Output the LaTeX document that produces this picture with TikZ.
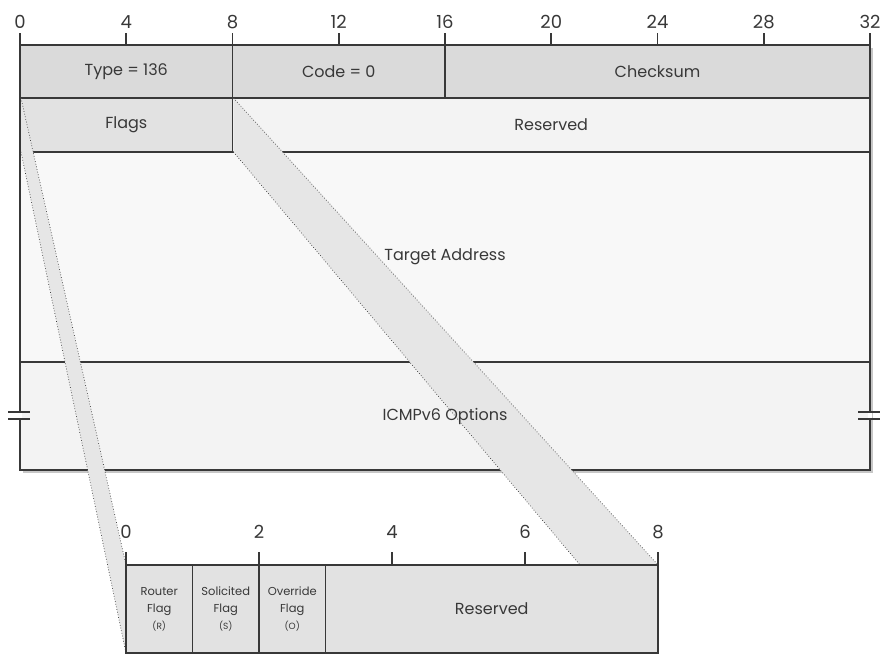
\documentclass[tikz,border=0pt]{standalone}
\usepackage{fontspec}
\setmainfont{Poppins}
\definecolor{nshdr}{HTML}{DADADA}
\definecolor{nsflag}{HTML}{E2E2E2}
\definecolor{nsrow}{HTML}{F3F3F3}
\definecolor{nsbody}{HTML}{F8F8F8}
\definecolor{nsband}{HTML}{E6E6E6}
\definecolor{nsline}{HTML}{383838}
\usepackage{tikz}
\usetikzlibrary{positioning,calc}

\begin{document}
\begin{tikzpicture}[x=1pt, y=-1pt,
  field/.style={draw=nsline, line width=1.3pt, anchor=north west, inner sep=0pt, outer sep=0pt},
  lbl/.style={font=\fontsize{16}{18}\selectfont, text=nsline},
  small/.style={font=\fontsize{11.5}{17}\selectfont, text=nsline, align=center},
  bitnum/.style={font=\fontsize{18}{20}\selectfont, anchor=base, text=nsline},
  tick/.style={draw=nsline, line width=1.6pt},
  edge/.style={draw=nsline, dotted, line width=0.7pt}]
  \useasboundingbox (0,0) rectangle (886,657);
  \pgfmathsetmacro{\bw}{26.5625} % one bit, header
  \pgfmathsetmacro{\fw}{66.5}    % one bit, flags byte
  % Shadow
  \fill[black!22] (23,48) rectangle (873,473);
  % Header rows
  \node[field, fill=nshdr, minimum width=8*\bw, minimum height=53] (type) at (20,45) {};
  \node[field, fill=nshdr, minimum width=8*\bw, minimum height=53, right=0pt of type] (code) {};
  \node[field, fill=nshdr, minimum width=16*\bw, minimum height=53, right=0pt of code] (csum) {};
  \node[field, fill=nsflag, minimum width=8*\bw, minimum height=54] (flags) at (type.south west) {};
  \node[field, fill=nsrow, minimum width=24*\bw, minimum height=54, right=0pt of flags] (res) {};
  \node[field, fill=nsbody, minimum width=32*\bw, minimum height=210] (target) at (flags.south west) {};
  \node[field, fill=nsrow, minimum width=32*\bw, minimum height=108] (opts) at (target.south west) {};
  \draw[nsline, line width=1.8pt] (type.north west) rectangle (opts.south east);
  % Break marks
  \foreach \xx in {20,870}{
    \fill[white] (\xx-2,413) rectangle (\xx+2,418);
    \draw[nsline, line width=1.5pt] (\xx-12,412) -- (\xx+10,412);
    \draw[nsline, line width=1.5pt] (\xx-12,419) -- (\xx+10,419);
  }
  % Flags byte corners
  \coordinate (flagtl) at (126,565);
  \coordinate (flagbl) at (126,653);
  \coordinate (flagtr) at (658,565);
  \coordinate (bandend) at (580,565);
  % Bands
  \fill[nsband] ([xshift=1pt]flags.north west) -- (flagtl) -- (flagbl) -- ([xshift=1pt]flags.south west) -- cycle;
  \draw[edge] ([xshift=1pt]flags.north west) -- (flagtl);
  \draw[edge] ([xshift=1pt]flags.south west) -- (flagbl);
  \fill[nsband] ([xshift=1pt]flags.north east) -- (flagtr) -- (bandend) -- ([xshift=1pt]flags.south east) -- cycle;
  \draw[edge] ([xshift=1pt]flags.north east) -- (flagtr);
  \draw[edge] ([xshift=1pt]flags.south east) -- (bandend);
  % Labels
  \node[lbl] (typetxt) at (type) {Type = 136};
  \node[lbl] (codetxt) at (code) {Code = 0};
  \node[lbl] (csumtxt) at (csum) {Checksum};
  \node[lbl] (flagstxt) at (flags) {Flags};
  \node[lbl] (restxt) at (res) {Reserved};
  \node[lbl] (targettxt) at (target) {Target Address};
  \node[lbl] (optstxt) at (opts) {ICMPv6 Options};
  % Bit ruler
  \foreach \b in {0,4,...,32}{
    \draw[tick] (20+\b*\bw,45) -- (20+\b*\bw,33);
    \node[bitnum] (top\b) at (20+\b*\bw,28) {\b};
  }
  % Flags byte
  \node[field, fill=nsflag, minimum width=\fw, minimum height=88] (rflag) at (flagtl) {};
  \node[field, fill=nsflag, minimum width=\fw, minimum height=88, right=0pt of rflag] (sflag) {};
  \node[field, fill=nsflag, minimum width=\fw, minimum height=88, right=0pt of sflag] (oflag) {};
  \node[field, fill=nsflag, minimum width=5*\fw, minimum height=88, right=0pt of oflag] (lres) {};
  \draw[nsline, line width=1.8pt] (rflag.north west) rectangle (lres.south east);
  \node[small] (rflagtxt) at (rflag) {Router\\Flag\\{\fontsize{9}{11}\selectfont(R)}};
  \node[small] (sflagtxt) at (sflag) {Solicited\\Flag\\{\fontsize{9}{11}\selectfont(S)}};
  \node[small] (oflagtxt) at (oflag) {Override\\Flag\\{\fontsize{9}{11}\selectfont(O)}};
  \node[lbl] (lrestxt) at (lres) {Reserved};
  \foreach \b in {0,2,...,8}{
    \draw[tick] (126+\b*\fw,565) -- (126+\b*\fw,552);
    \node[bitnum] (low\b) at (126+\b*\fw,538) {\b};
  }
\end{tikzpicture}
\end{document}
